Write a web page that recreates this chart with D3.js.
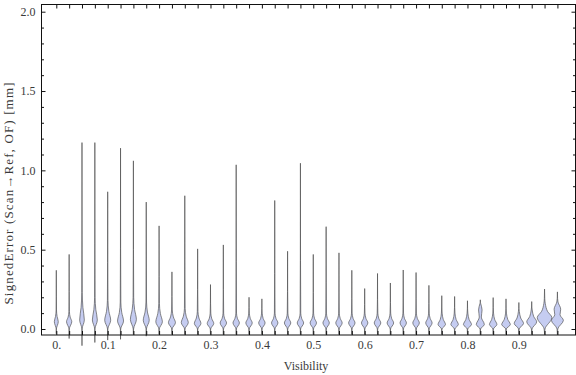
<!DOCTYPE html>
<html><head><meta charset="utf-8">
<script src="https://cdn.jsdelivr.net/npm/d3@7"></script>
<style>body{margin:0;background:#fff}svg{display:block}</style></head>
<body><svg id="c" width="576" height="375"></svg>
<script>
// ---- data ----
const visibility = [0, 0.025, 0.05, 0.075, 0.1, 0.125, 0.15, 0.175, 0.2, 0.225,
  0.25, 0.275, 0.3, 0.325, 0.35, 0.375, 0.4, 0.425, 0.45, 0.475,
  0.5, 0.525, 0.55, 0.575, 0.6, 0.625, 0.65, 0.675, 0.7, 0.725,
  0.75, 0.775, 0.8, 0.825, 0.85, 0.875, 0.9, 0.925, 0.95, 0.975];
const maxVals = [0.37, 0.47, 1.175, 1.175, 0.865, 1.14, 1.06, 0.80, 0.65, 0.36,
  0.84, 0.505, 0.28, 0.53, 1.035, 0.20, 0.19, 0.81, 0.49, 1.045,
  0.47, 0.645, 0.48, 0.37, 0.255, 0.35, 0.29, 0.372, 0.356, 0.275,
  0.21, 0.205, 0.178, 0.184, 0.198, 0.19, 0.167, 0.173, 0.252, 0.234];
const minVals = [-0.03, -0.06, -0.105, -0.085, -0.07, -0.065, -0.035, -0.045, -0.035, -0.035,
  -0.035, -0.035, -0.035, -0.035, -0.035, -0.035, -0.035, -0.035, -0.035, -0.035,
  -0.035, -0.035, -0.035, -0.035, -0.035, -0.035, -0.035, -0.035, -0.035, -0.035,
  -0.035, -0.035, -0.035, -0.035, -0.035, -0.035, -0.035, -0.035, -0.035, -0.035];
const modeVals = [0.046, 0.046, 0.057, 0.057, 0.055, 0.05, 0.06, 0.055, 0.045, 0.04,
  0.04, 0.035, 0.035, 0.038, 0.038, 0.038, 0.038, 0.038, 0.038, 0.038,
  0.038, 0.038, 0.038, 0.038, 0.038, 0.038, 0.038, 0.038, 0.038, 0.038,
  0.028, 0.028, 0.028, 0.028, 0.028, 0.028, 0.035, 0.045, 0.072, 0.055];
const peakDensity = [0.27, 0.36, 0.32, 0.34, 0.41, 0.41, 0.41, 0.41, 0.45, 0.48,
  0.48, 0.45, 0.45, 0.44, 0.44, 0.44, 0.44, 0.44, 0.44, 0.44,
  0.44, 0.44, 0.44, 0.44, 0.44, 0.45, 0.45, 0.44, 0.45, 0.44,
  0.51, 0.51, 0.55, 0.55, 0.51, 0.59, 0.64, 0.68, 1.0, 0.82];
const bulgeTop = [0.12, 0.11, 0.23, 0.20, 0.18, 0.17, 0.20, 0.17, 0.16, 0.12,
  0.13, 0.11, 0.10, 0.10, 0.10, 0.10, 0.10, 0.10, 0.10, 0.10,
  0.10, 0.10, 0.10, 0.10, 0.10, 0.10, 0.10, 0.10, 0.10, 0.10,
  0.10, 0.10, 0.10, 0.16, 0.10, 0.10, 0.11, 0.12, 0.16, 0.17];
// secondary bumps
const shoulderIndex = [33, 39];
const shoulderVals = [0.12, 0.125];
const shoulderDensity = [0.24, 0.45];
const dipVals = [0.075, 0.09];
const dipDensity = [0.14, 0.36];

const yMajor = [0, 0.5, 1.0, 1.5, 2.0];
const yMinor = [0.1, 0.2, 0.3, 0.4, 0.6, 0.7, 0.8, 0.9, 1.1, 1.2, 1.3, 1.4, 1.6, 1.7, 1.8, 1.9];
const xLabelTicks = [0, 0.1, 0.2, 0.3, 0.4, 0.5, 0.6, 0.7, 0.8, 0.9];
const xTitle = "Visibility";
const yTitle = "SignedError (Scan\u2192Ref, OF) [mm]";

// ---- layout ----
const L = 41.5, R = 575.5, T = 4.5, B = 335;
const svg = d3.select("#c");
const x = d3.scaleLinear().domain([-0.0288, 1.0102]).range([L, R]);
const y = d3.scaleLinear().domain([-0.0378, 2.0454]).range([B, T]);
const w = d3.scaleLinear().domain([0, 1]).range([0, 7.3]);
const font = "'Liberation Serif','Times New Roman',Times,serif";
const txtCol = "#3a3a3a";

function profile(i) {
  const mn = minVals[i], mx = maxVals[i], m = modeVals[i], d = peakDensity[i], t = bulgeTop[i];
  const k = shoulderIndex.indexOf(i);
  if (k >= 0) {
    return [[mn, 0], [0, 0.06 * d], [m, d], [dipVals[k], dipDensity[k]],
      [shoulderVals[k], shoulderDensity[k]], [t, 0.1 * d], [t + 0.35 * (mx - t), 0.03 * d], [mx, 0]];
  }
  return [[mn, 0], [0, 0.06 * d], [m, d], [m + 0.45 * (t - m), 0.4 * d], [t, 0.1 * d],
    [t + 0.35 * (mx - t), 0.03 * d], [mx, 0]];
}

const area = d3.area().curve(d3.curveMonotoneY)
  .y(p => y(p[0])).x0(p => -w(p[1])).x1(p => w(p[1]));

// violins
svg.append("g").selectAll("path").data(visibility).join("path")
  .attr("transform", v => `translate(${x(v)},0)`)
  .attr("d", (v, i) => area(profile(i)))
  .attr("fill", "#c5ccf1")
  .attr("stroke", "#4a4a4a")
  .attr("stroke-width", 0.65)
  .attr("stroke-linejoin", "round");

// frame
svg.append("rect").attr("x", L).attr("y", T).attr("width", R - L).attr("height", B - T)
  .attr("fill", "none").attr("stroke", "#111").attr("stroke-width", 1);

function styleAxis(g) {
  g.select(".domain").remove();
  g.selectAll(".tick line").attr("stroke", "#111");
  g.selectAll("text").attr("font-family", font).attr("font-size", 12).attr("fill", txtCol);
}

const fmtX = d => d === 0 ? "0." : d3.format(".1f")(d);
svg.append("g").attr("transform", `translate(0,${B})`)
  .call(d3.axisBottom(x).tickValues(visibility).tickSize(-4).tickPadding(5)
    .tickFormat(d => xLabelTicks.some(t => Math.abs(t - d) < 1e-9) ? fmtX(d) : ""))
  .call(styleAxis);
svg.append("g").attr("transform", `translate(0,${T})`)
  .call(d3.axisTop(x).tickValues(visibility).tickSize(-4).tickFormat(""))
  .call(styleAxis);
svg.append("g").attr("transform", `translate(${L},0)`)
  .call(d3.axisLeft(y).tickValues(yMajor).tickSize(-4).tickPadding(6).tickFormat(d3.format(".1f")))
  .call(styleAxis);
svg.append("g").attr("transform", `translate(${L},0)`)
  .call(d3.axisLeft(y).tickValues(yMinor).tickSize(-2.5).tickFormat(""))
  .call(styleAxis);
svg.append("g").attr("transform", `translate(${R},0)`)
  .call(d3.axisRight(y).tickValues(yMajor).tickSize(-4).tickFormat(""))
  .call(styleAxis);
svg.append("g").attr("transform", `translate(${R},0)`)
  .call(d3.axisRight(y).tickValues(yMinor).tickSize(-2.5).tickFormat(""))
  .call(styleAxis);

// titles
svg.append("text").attr("x", 306).attr("y", 369.5).attr("text-anchor", "middle")
  .attr("font-family", font).attr("font-size", 12).attr("fill", txtCol).text(xTitle);
svg.append("text").attr("transform", "translate(13,193.5) rotate(-90)").attr("text-anchor", "middle")
  .attr("textLength", 222).attr("lengthAdjust", "spacing")
  .attr("font-family", font).attr("font-size", 13).attr("fill", txtCol).text(yTitle);
</script></body></html>
